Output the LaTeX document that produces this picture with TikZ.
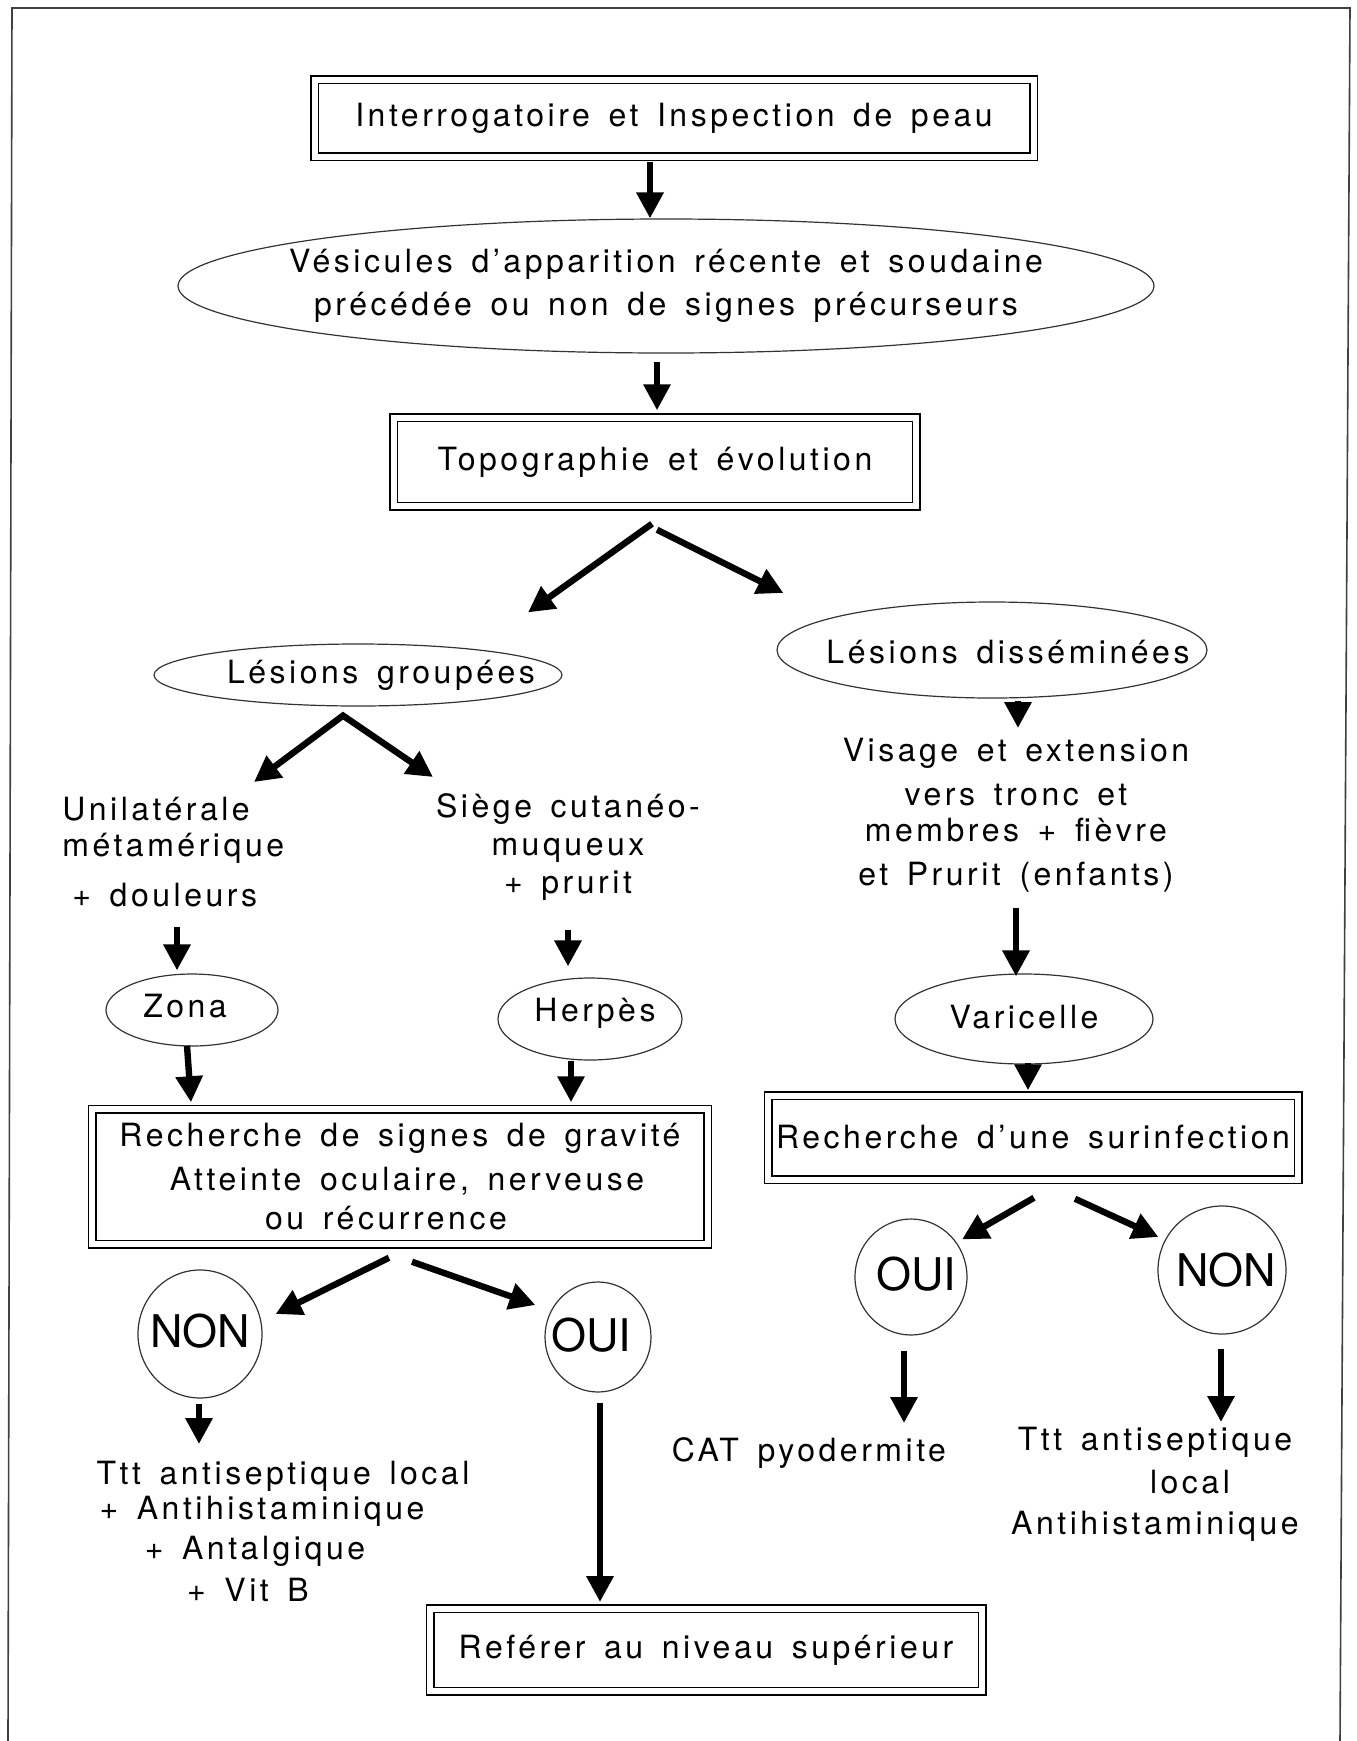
\documentclass[tikz,border=0pt]{standalone}
\usepackage{fontspec}
\setmainfont{TeX Gyre Heros}[LetterSpace=11, WordSpace=1.5]
\newfontfamily\answerfont{TeX Gyre Heros}
\usetikzlibrary{arrows.meta,shapes.geometric}

\newcommand\diagfont{\fontsize{16}{20}\selectfont}
\newcommand\ynfont{\answerfont\fontsize{22.5}{27}\selectfont}

\tikzset{
  frame/.style={line width=0.8pt, black!75},
  arr/.style={line width=3.2pt, -{Triangle[length=13pt,width=13pt]}},
  twoarr/.style={line width=3.2pt, line join=miter,
    {Triangle[length=13pt,width=13pt]}-{Triangle[length=13pt,width=13pt]}},
  dbox/.style={draw, double, line width=0.75pt, double distance=3pt,
    inner sep=0pt, align=center, font=\diagfont},
  oval/.style={draw, ellipse, line width=0.6pt, black!80, inner sep=0pt},
  lbl/.style={inner sep=0pt, align=center, font=\diagfont, text=black},
  yn/.style={inner sep=0pt, font=\ynfont, text=black},
  txt/.style={inner sep=0pt, align=center, font=\diagfont},
}

\begin{document}
\begin{tikzpicture}[x=0.5pt,y=-0.5pt]
\useasboundingbox (0,0) rectangle (1356,1741);

% page frame, open at the bottom
\draw[frame] (8,1741) -- (12,8) -- (1350,8) -- (1340,1741);

% ---------- top of the chart ----------
\node[dbox, minimum width=359.5pt, minimum height=38.5pt] (box1) at (674,118)
  {Interrogatoire et Inspection de peau};

\node[oval, minimum width=488pt, minimum height=67pt,
  label={[lbl, font=\fontsize{16}{21.5}\selectfont]center:V\'esicules d’apparition r\'ecente et soudaine\\pr\'ec\'ed\'ee ou non de signes pr\'ecurseurs}]
  (ves) at (666,286) {};

\node[dbox, minimum width=261.25pt, minimum height=44.25pt] (box2) at (655,462)
  {Topographie et \'evolution};

\node[oval, minimum width=204pt, minimum height=31pt,
  label={[lbl, xshift=11.5pt]center:L\'esions group\'ees}] (lg) at (358,675) {};
\node[oval, minimum width=215pt, minimum height=48pt,
  label={[lbl, xshift=8pt, yshift=-1pt]center:L\'esions diss\'emin\'ees}] (ld) at (992,650) {};

% ---------- left branch ----------
\node[txt, align=left, anchor=west] (uni) at (62,852)
  {Unilat\'erale\\[-2pt]m\'etam\'erique\\[5pt]\hspace*{5pt}+ douleurs};
\node[txt] (sie) at (568,847) {Si\`ege cutan\'eo-\\[-1pt]muqueux\\[-1pt]+ prurit};

\node[oval, minimum width=86pt, minimum height=36pt,
  label={[lbl, xshift=-3.5pt, yshift=2pt]center:Zona}] (zona) at (192,1010) {};
\node[oval, minimum width=92pt, minimum height=41pt,
  label={[lbl, xshift=2.5pt, yshift=3pt]center:Herp\`es}] (herp) at (590,1019) {};

\node[dbox, minimum width=307.75pt, minimum height=67.5pt] (grav) at (400,1176.5)
  {Recherche de signes de gravit\'e\\[2pt]\hspace*{7pt}Atteinte oculaire, nerveuse\\[-0.25pt]ou r\'ecurrence\hspace*{14pt}};

\node[oval, minimum width=62pt, minimum height=64pt,
  label={[yn, yshift=1.5pt]center:NON}] (non1) at (200,1334) {};
\node[oval, minimum width=53pt, minimum height=55pt,
  label={[yn, xshift=-3.5pt, yshift=1pt]center:OUI}] (oui1) at (598,1337) {};

\node[txt] (ttt1) at (283,1531)
  {Ttt antiseptique local\\[-2.5pt]+ Antihistaminique\hspace*{21pt}\null\\+ Antalgique\hspace*{28pt}\null\\[1pt]+ Vit B\hspace*{35pt}};

\node[dbox, minimum width=276pt, minimum height=41.25pt] (ref) at (706,1650)
  {Ref\'erer au niveau sup\'erieur};

% ---------- right branch ----------
\node[txt] (vis) at (1016,815)
  {Visage et extension\\[2pt]vers tronc et\\[-2pt]membres + fi\`evre\\[2pt]et Prurit (enfants)};

\node[oval, minimum width=129pt, minimum height=45pt,
  label={[lbl, yshift=1pt]center:Varicelle}] (var) at (1024,1019) {};

\node[dbox, minimum width=265pt, minimum height=42pt] (surinf) at (1033,1137.5)
  {Recherche d’une surinfection};

\node[oval, minimum width=56pt, minimum height=58pt,
  label={[yn, xshift=2.5pt, yshift=1.5pt]center:OUI}] (oui2) at (911,1277) {};
\node[oval, minimum width=64pt, minimum height=64pt,
  label={[yn, xshift=2pt]center:NON}] (non2) at (1222,1270) {};

\node[txt] (cat) at (809,1453) {CAT pyodermite};
\node[txt] (ttt2) at (1155,1484)
  {Ttt antiseptique\\[1.5pt]\hspace*{35pt}local\\[0.5pt]Antihistaminique};

% ---------- free ends of connectors next to plain text ----------
\coordinate (uniIn)  at (254,782);
\coordinate (sieIn)  at (433,777);
\coordinate (uniOut) at (177,927);
\coordinate (sieOut) at (568,930);
\coordinate (visIn)  at (1018,728);
\coordinate (visOut) at (1016,908);
\coordinate (catIn)  at (904,1423);
\coordinate (ttt2In) at (1221,1422);
\coordinate (ttt1In) at (199,1444);

% ---------- connectors ----------
\draw[arr] ([shift={(-24,4.5)}]box1.south) -- ([shift={(-16,0)}]ves.north);
\draw[arr] ([shift={(-9,8)}]ves.south) -- ([shift={(2,-6.75)}]box2.north);
\draw[arr] ([shift={(-3,16.75)}]box2.south) -- ([shift={(170,-31)}]lg.north);
\draw[arr] ([shift={(2,22.75)}]box2.south) -- ([shift={(7,-57)}]ld.west);

\draw[twoarr] (uniIn) -- ([shift={(-15,9)}]lg.south) -- (sieIn);
\draw[arr] (uniOut) -- ([shift={(-15,-3)}]zona.north);
\draw[arr] (sieOut) -- ([shift={(-22,-11)}]herp.north);
\draw[arr] ([shift={(-5,-1)}]zona.south) -- ([shift={(-209,-6)}]grav.north);
\draw[arr] ([shift={(-19,0)}]herp.south) -- ([shift={(171,-6)}]grav.north);
\draw[arr] ([shift={(-11,13)}]grav.south) -- ([shift={(13,-20)}]non1.east);
\draw[arr] ([shift={(12,17)}]grav.south) -- ([shift={(-9,-32)}]oui1.west);
\draw[arr] ([shift={(-1,5)}]non1.south) -- (ttt1In);
\draw[arr] ([shift={(2,10)}]oui1.south) -- ([shift={(-106,-6)}]ref.north);

\draw[arr] ([shift={(26,2)}]ld.south) -- (visIn);
\draw[arr] (visOut) -- ([shift={(-8,3)}]var.north);
\draw[arr] ([shift={(4,-2)}]var.south) -- ([shift={(-5,-4.5)}]surinf.north);
\draw[arr] ([shift={(1,17.5)}]surinf.south) -- ([shift={(51,21)}]oui2.north);
\draw[arr] ([shift={(42,18.5)}]surinf.south) -- ([shift={(1,-33)}]non2.west);
\draw[arr] ([shift={(-7,15)}]oui2.south) -- (catIn);
\draw[arr] ([shift={(-1,14)}]non2.south) -- (ttt2In);
\end{tikzpicture}
\end{document}
